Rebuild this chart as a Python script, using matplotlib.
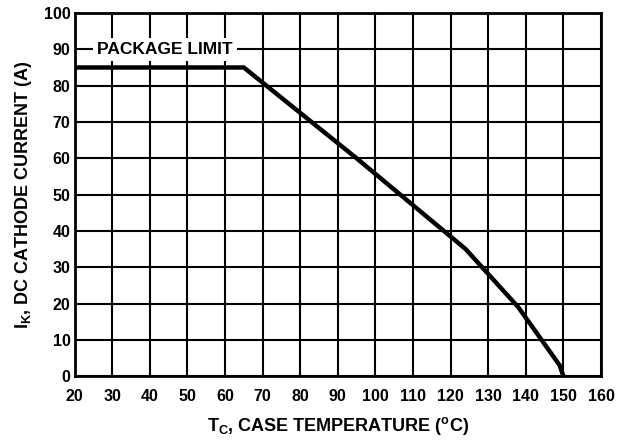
import matplotlib
matplotlib.use("Agg")
import matplotlib.pyplot as plt

plt.rcParams['font.family'] = ['Liberation Sans', 'DejaVu Sans']
plt.rcParams['font.weight'] = 'bold'
plt.rcParams['mathtext.fontset'] = 'custom'
plt.rcParams['mathtext.rm'] = 'Liberation Sans:bold'
plt.rcParams['mathtext.it'] = 'Liberation Sans:bold'
plt.rcParams['mathtext.bf'] = 'Liberation Sans:bold'

# derating curve
case_temp = [20, 65, 95, 124, 138, 149, 150]
cathode_current = [85, 85, 60, 35, 19, 3, 0]

x_ticks = list(range(20, 161, 10))
y_ticks = list(range(0, 101, 10))

fig = plt.figure(figsize=(6.27, 4.41), dpi=100)
ax = fig.add_axes([0.119, 0.147, 0.8395, 0.8235])

ax.set_xlim(20, 160)
ax.set_ylim(0, 100)
ax.set_xticks(x_ticks)
ax.set_yticks(y_ticks)
ax.tick_params(axis='x', length=0, labelsize=11.5, pad=9)
ax.tick_params(axis='y', length=0, labelsize=11.5, pad=3)
for lbl in ax.get_xticklabels() + ax.get_yticklabels():
    lbl.set_fontweight('bold')

ax.grid(True, color='black', linewidth=1.5)
ax.set_axisbelow(True)
for s in ax.spines.values():
    s.set_linewidth(2)

ax.plot(case_temp, cathode_current, color='black', linewidth=3.2,
        solid_capstyle='butt', solid_joinstyle='miter', zorder=3)

ax.text(44, 90, 'PACKAGE LIMIT', ha='center', va='center', fontsize=12.5,
        fontweight='bold', zorder=4,
        bbox=dict(facecolor='white', edgecolor='none', pad=3))

ax.set_xlabel(r'T$_\mathrm{C}$, CASE TEMPERATURE ($^\mathrm{o}$C)',
              fontsize=13, fontweight='bold', labelpad=8)
ax.set_ylabel(r'I$_\mathrm{K}$, DC CATHODE CURRENT (A)',
              fontsize=13, fontweight='bold', labelpad=7)

fig.savefig('out.png', dpi=100)
